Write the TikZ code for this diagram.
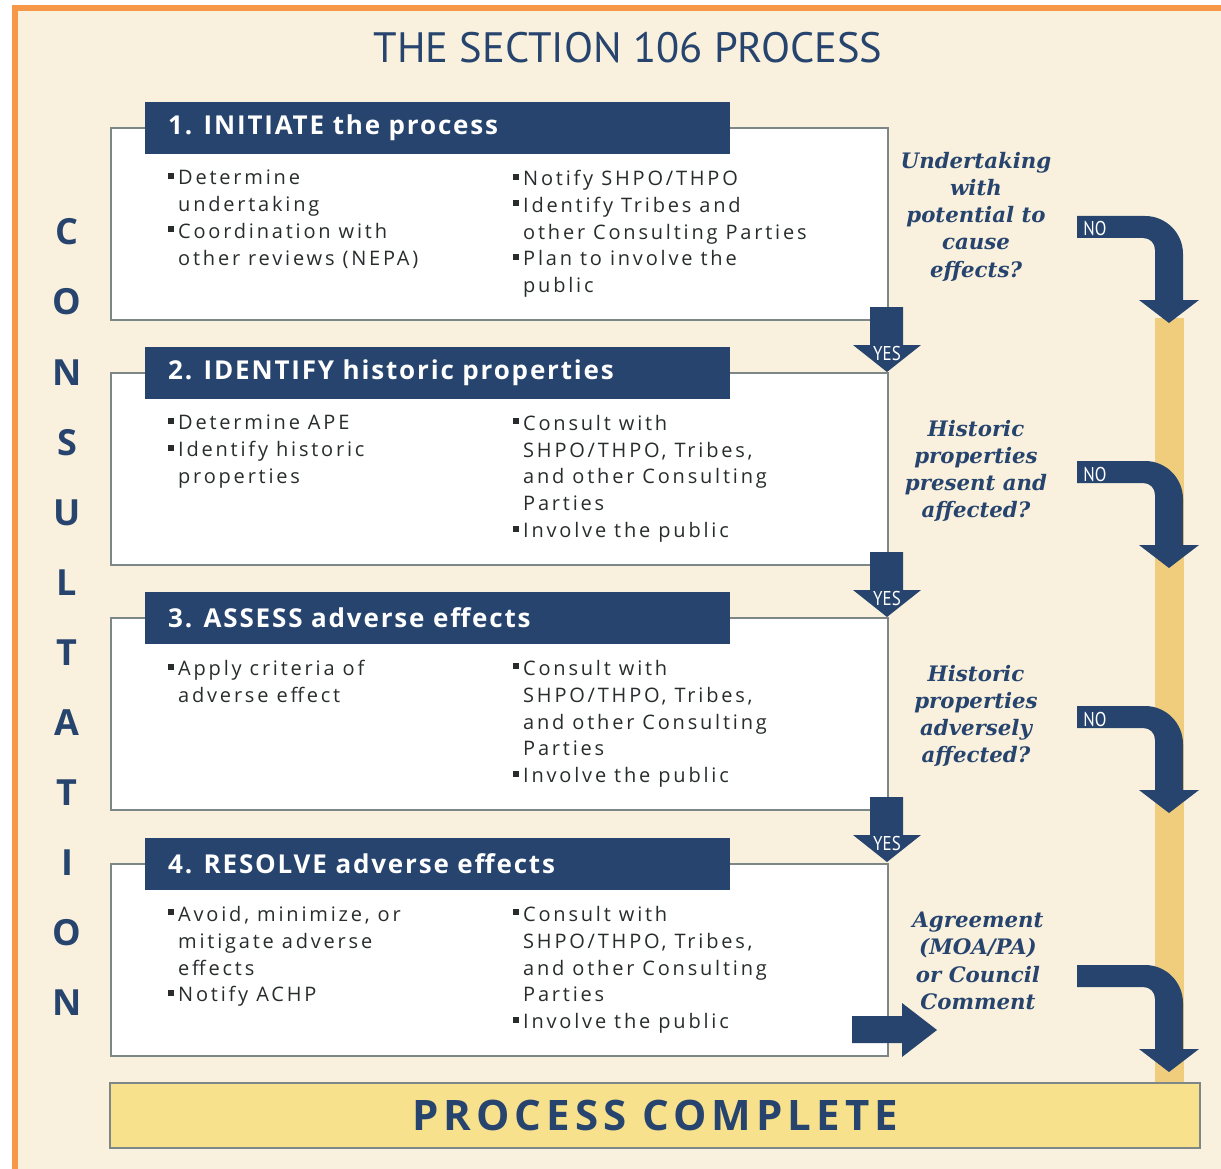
\documentclass[tikz,border=0pt]{standalone}
\usepackage{fontspec}
\setmainfont{Open Sans}
\newfontfamily\bodyfont[LetterSpace=14]{Open Sans}
\newfontfamily\headfont[LetterSpace=7]{Open Sans}
\newfontfamily\titlefont{PT Sans}
\newfontfamily\qfont{DejaVu Serif}
\newfontfamily\donefont[LetterSpace=12]{Open Sans}
\newfontfamily\ynfont{PT Sans}
\newfontfamily\consfont{Open Sans}
\definecolor{pagebg}{RGB}{249,241,221}
\definecolor{orng}{RGB}{246,152,72}
\definecolor{navy}{RGB}{38,68,110}
\definecolor{boxline}{RGB}{125,135,135}
\definecolor{bodycol}{RGB}{40,44,44}
\definecolor{barcol}{RGB}{239,205,125}
\definecolor{donecol}{RGB}{247,225,140}
\newcommand\bul{\rule[6pt]{6pt}{6pt}\hspace{4pt}}
\newcommand\ind{\hspace*{10pt}}
\begin{document}
\begin{tikzpicture}[x=1pt,y=-1pt,
  stepbox/.style={draw=boxline,line width=1.3pt,fill=white,minimum width=777pt,minimum height=192pt,inner sep=0pt},
  headbox/.style={fill=navy,minimum width=585pt,minimum height=52pt,inner sep=0pt},
  headtxt/.style={anchor=west,inner sep=0pt,text=white,font={\headfont\bfseries\fontsize{26}{30}\selectfont}},
  bodytxt/.style={anchor=north west,inner sep=0pt,align=left,text=bodycol,font={\bodyfont\fontsize{20}{26.8}\selectfont}},
  qtxt/.style={anchor=north,inner sep=0pt,align=center,text=navy,font={\qfont\bfseries\itshape\fontsize{21.3}{27.2}\selectfont}},
  yntxt/.style={inner sep=0pt,text=white,font={\ynfont\fontsize{20}{22}\selectfont},xscale=0.85},
  constxt/.style={inner sep=0pt,text=navy,font={\consfont\bfseries\fontsize{36}{40}\selectfont}},
  yesarrow/.pic={\fill[navy] (-17,0) -- (16,0) -- (16,38) -- (34,38) -- (0,65) -- (-34,38) -- (-17,38) -- cycle;},
  noarrow/.pic={\fill[navy] (0,0) -- (68,0) .. controls (89,0) and (106,17) .. (106,38) -- (106,84) -- (122,84) -- (92,107) -- (62,84) -- (78,84) -- (78,34) .. controls (78,27) and (73,22) .. (66,22) -- (0,22) -- cycle;}
]
\useasboundingbox (0,0) rectangle (1221,1169);
\fill[white] (0,0) rectangle (1221,1169);
\fill[orng] (12,5) rectangle (1221,1169);
\fill[pagebg] (18,11) rectangle (1221,1169);

% title
\node[text=navy,inner sep=0pt,font={\titlefont\fontsize{42.5}{46}\selectfont}] (title) at (628,48) {THE SECTION 106 PROCESS};

% CONSULTATION
\foreach \L [count=\i from 0] in {C,O,N,S,U,L,T,A,T,I,O,N}
  \node[constxt] (cons\i) at (67,232+70.1*\i) {\L};

% yellow bar
\fill[barcol] (1155,318) rectangle (1184,1084);

% boxes
\node[stepbox] (b1) at (499.5,224) {};
\node[stepbox] (b2) at (499.5,469) {};
\node[stepbox] (b3) at (499.5,714) {};
\node[stepbox] (b4) at (499.5,960) {};

\node[headbox] (h1) at (437.5,128) {};
\node[headbox] (h2) at (437.5,373) {};
\node[headbox] (h3) at (437.5,618) {};
\node[headbox] (h4) at (437.5,864) {};

\node[headtxt] (ht1) at (168,128) {1. INITIATE the process};
\node[headtxt] (ht2) at (168,373) {2. IDENTIFY historic properties};
\node[headtxt] (ht3) at (168,618) {3. ASSESS adverse effects};
\node[headtxt] (ht4) at (168,864) {4. RESOLVE adverse effects};

% body texts
\node[bodytxt] (l1) at (168,170) {\bul Determine\\\ind undertaking\\\bul Coordination with\\\ind other reviews (NEPA)};
\node[bodytxt] (r1) at (513,170) {\bul Notify SHPO/THPO\\\bul Identify Tribes and\\\ind other Consulting Parties\\\bul Plan to involve the\\\ind public};
\node[bodytxt] (l2) at (168,415) {\bul Determine APE\\\bul Identify historic\\\ind properties};
\node[bodytxt] (r2) at (513,415) {\bul Consult with\\\ind SHPO/THPO, Tribes,\\\ind and other Consulting\\\ind Parties\\\bul Involve the public};
\node[bodytxt] (l3) at (168,660) {\bul Apply criteria of\\\ind adverse effect};
\node[bodytxt] (r3) at (513,660) {\bul Consult with\\\ind SHPO/THPO, Tribes,\\\ind and other Consulting\\\ind Parties\\\bul Involve the public};
\node[bodytxt] (l4) at (168,906) {\bul Avoid, minimize, or\\\ind mitigate adverse\\\ind effects\\\bul Notify ACHP};
\node[bodytxt] (r4) at (513,906) {\bul Consult with\\\ind SHPO/THPO, Tribes,\\\ind and other Consulting\\\ind Parties\\\bul Involve the public};

% YES arrows
\pic at (887,307) {yesarrow};
\pic at (887,552) {yesarrow};
\pic at (887,797) {yesarrow};
\node[yntxt] (yes1) at (887,353) {YES};
\node[yntxt] (yes2) at (887,598) {YES};
\node[yntxt] (yes3) at (887,843) {YES};

% right arrow from box 4
\fill[navy] (852,1016) -- (902,1016) -- (902,1003) -- (937,1030) -- (902,1057) -- (902,1043) -- (852,1043) -- cycle;

% questions
\node[qtxt] (q1) at (976,152) {Undertaking\\with\\potential to\\cause\\effects?};
\node[qtxt] (q2) at (976,420) {Historic\\properties\\present and\\affected?};
\node[qtxt] (q3) at (976,665) {Historic\\properties\\adversely\\affected?};
\node[qtxt] (q4) at (978,912) {Agreement\\(MOA/PA)\\or Council\\Comment};

% NO arrows
\pic at (1077,216) {noarrow};
\pic at (1077,461) {noarrow};
\pic at (1077,706) {noarrow};
\pic at (1077,965) {noarrow};
\node[yntxt] (no1) at (1095,229) {NO};
\node[yntxt] (no2) at (1095,474) {NO};
\node[yntxt] (no3) at (1095,719) {NO};

% process complete
\node[draw=boxline,line width=1.3pt,fill=donecol,minimum width=1090pt,minimum height=65pt,inner sep=0pt,text=navy,font={\donefont\bfseries\fontsize{42}{44}\selectfont}] (done) at (655,1115.5) {PROCESS COMPLETE};
\end{tikzpicture}
\end{document}
